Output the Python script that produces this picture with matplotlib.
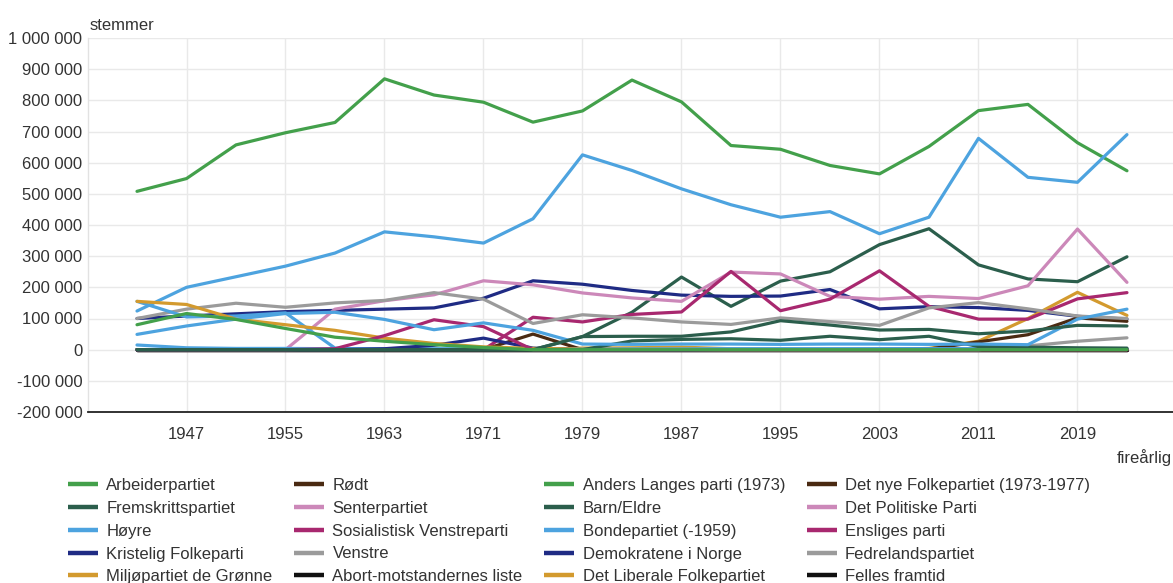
import numpy as np
import matplotlib
matplotlib.use("Agg")
import matplotlib.pyplot as plt
from matplotlib.ticker import FuncFormatter

plt.rcParams['font.family'] = ['Liberation Sans', 'DejaVu Sans']

# ---------------- data (votes, in thousands) ----------------
years = ["1945", "1947", "1951", "1955", "1959", "1963", "1967", "1971", "1975", "1979",
         "1983", "1987", "1991", "1995", "1999", "2003", "2007", "2011", "2015", "2019", "2023"]

arbeiderpartiet = [508, 549, 657, 696, 729, 869, 817, 794, 730, 766, 865, 795, 655, 643, 591, 564, 652, 767, 787, 664, 574]
fremskrittspartiet = [0, 0, 0, 0, 0, 0, 0, 0, 0, 42, 120, 233, 139, 220, 250, 337, 388, 272, 227, 218, 298]
hoyre = [124, 200, 234, 268, 310, 378, 362, 342, 420, 625, 575, 516, 465, 425, 443, 372, 425, 678, 553, 537, 690]
krf = [100, 108, 115, 122, 126, 130, 134, 165, 221, 210, 190, 175, 171, 172, 193, 131, 138, 135, 126, 107, 98]
mdg = [0, 0, 0, 0, 0, 0, 0, 0, 0, 0, 0, 0, 0, 0, 0, 0, 4, 27, 100, 184, 110]
rodt = [0, 0, 0, 0, 0, 0, 0, 0, 0, 0, 0, 0, 0, 0, 0, 0, 2, 25, 48, 102, 91]
senterpartiet = [0, 0, 0, 0, 130, 157, 176, 221, 208, 182, 166, 155, 249, 243, 171, 162, 171, 164, 205, 387, 216]
sv = [0, 0, 0, 0, 0, 0, 0, 0, 104, 89, 113, 121, 251, 125, 162, 253, 139, 98, 98, 163, 183]
venstre = [100, 130, 149, 136, 150, 158, 183, 162, 84, 112, 102, 89, 81, 102, 90, 78, 134, 151, 131, 108, 100]
abort = [0] * 21
anders_lange = [0] * 21
barn_eldre = [0] * 21
bondepartiet = [155, 105, 108, 118, 5, 0, 0, 0, 0, 0, 0, 0, 0, 0, 0, 0, 0, 0, 0, 0, 0]
demokratene = [0, 0, 0, 0, 0, 0, 0, 0, 0, 0, 0, 0, 0, 0, 0, 3, 3, 2, 2, 2, 2]
liberale = [0, 0, 0, 0, 0, 0, 0, 0, 0, 5, 6, 8, 3, 1, 0, 0, 0, 0, 0, 0, 0]
nye_folkepartiet = [0, 0, 0, 0, 0, 0, 0, 0, 50, 0, 0, 0, 0, 0, 0, 0, 0, 0, 0, 0, 0]
politiske_parti = [0] * 21
ensliges = [0] * 21
fedrelandspartiet = [0, 0, 0, 0, 0, 0, 0, 0, 0, 0, 0, 0, 2, 3, 3, 2, 0, 0, 0, 0, 0]
felles_framtid = [0] * 21

# further series (on later legend pages, not shown in the visible legend)
andre_sma = [15, 6, 4, 4, 3, 3, 3, 3, 3, 3, 3, 3, 3, 3, 3, 3, 3, 3, 3, 3, 3]
samlingslister = [0, 0, 0, 0, 0, 3, 14, 37, 5, 0, 0, 0, 0, 0, 0, 0, 0, 0, 0, 0, 0]
nkp = [155, 145, 98, 80, 62, 37, 20, 9, 4, 2, 1, 1, 0, 0, 0, 0, 0, 0, 0, 0, 0]
sf = [0, 0, 0, 0, 3, 45, 96, 74, 0, 0, 0, 0, 0, 0, 0, 0, 0, 0, 0, 0, 0]
industri = [0, 0, 0, 0, 0, 0, 0, 0, 0, 0, 0, 0, 0, 0, 0, 0, 0, 0, 12, 27, 38]
pensjonist = [0, 0, 0, 0, 0, 0, 0, 0, 0, 0, 28, 33, 35, 30, 43, 32, 43, 10, 8, 6, 5]
lokale_lister = [49, 76, 98, 116, 120, 97, 64, 86, 62, 18, 17, 18, 18, 17, 18, 18, 17, 18, 16, 98, 130]
tverrpolitiske = [0, 0, 0, 0, 0, 0, 0, 0, 0, 42, 43, 43, 57, 93, 79, 63, 65, 51, 60, 78, 76]
felleslister = [80, 116, 97, 68, 40, 27, 16, 7, 0, 0, 0, 0, 0, 0, 0, 0, 0, 0, 0, 0, 0]

palette = ['#43a04b', '#2b5e4c', '#4da3df', '#1f2b84', '#d39a2e',
           '#4a2a12', '#cc88b9', '#a8286f', '#9b9b9b', '#111111']

legend_series = [
    ("Arbeiderpartiet", arbeiderpartiet),
    ("Fremskrittspartiet", fremskrittspartiet),
    ("Høyre", hoyre),
    ("Kristelig Folkeparti", krf),
    ("Miljøpartiet de Grønne", mdg),
    ("Rødt", rodt),
    ("Senterpartiet", senterpartiet),
    ("Sosialistisk Venstreparti", sv),
    ("Venstre", venstre),
    ("Abort-motstandernes liste", abort),
    ("Anders Langes parti (1973)", anders_lange),
    ("Barn/Eldre", barn_eldre),
    ("Bondepartiet (-1959)", bondepartiet),
    ("Demokratene i Norge", demokratene),
    ("Det Liberale Folkepartiet", liberale),
    ("Det nye Folkepartiet (1973-1977)", nye_folkepartiet),
    ("Det Politiske Parti", politiske_parti),
    ("Ensliges parti", ensliges),
    ("Fedrelandspartiet", fedrelandspartiet),
    ("Felles framtid", felles_framtid),
]
extra_series = [
    ("Andre", andre_sma, 2),
    ("Samlingslister", samlingslister, 3),
    ("Norges Kommunistiske Parti", nkp, 4),
    ("Sosialistisk Folkeparti", sf, 7),
    ("Industri- og Næringspartiet", industri, 8),
    ("Pensjonistpartiet", pensjonist, 1),
    ("Lokale lister", lokale_lister, 2),
    ("Tverrpolitiske lister", tverrpolitiske, 1),
    ("Felleslister", felleslister, 0),
]

W, H = 1173, 583
fig = plt.figure(figsize=(W / 100, H / 100), dpi=100)
ax = fig.add_axes([88 / W, 1 - 412 / H, (W - 88) / W, (412 - 38) / H])

x = np.arange(len(years))
lw = 2.3
handles = []
for i, (name, vals) in enumerate(legend_series):
    h, = ax.plot(x, np.array(vals) * 1000, color=palette[i % 10], lw=lw,
                 solid_joinstyle='round', solid_capstyle='round', label=name)
    handles.append(h)
for name, vals, ci in extra_series:
    ax.plot(x, np.array(vals) * 1000, color=palette[ci], lw=lw,
            solid_joinstyle='round', solid_capstyle='round', label='_' + name)

ax.set_xlim(-0.99, 20.93)
ax.set_ylim(-200000, 1000000)
ax.set_yticks(range(-200000, 1000001, 100000))
ax.yaxis.set_major_formatter(FuncFormatter(lambda v, p: f"{int(round(v)):,}".replace(",", " ")))
ax.set_xticks(x[1::2])
ax.set_xticklabels(years[1::2])

ax.grid(True, color='#e9e9e9', lw=1.0, zorder=0)
ax.set_axisbelow(True)
for s in ['top', 'right']:
    ax.spines[s].set_visible(False)
ax.spines['left'].set_color('#e2e2e2')
ax.spines['left'].set_linewidth(1.0)
ax.spines['bottom'].set_color('#222222')
ax.spines['bottom'].set_linewidth(1.3)
ax.tick_params(axis='both', length=0, labelsize=12, colors='#333333')
ax.tick_params(axis='y', pad=4)
ax.tick_params(axis='x', pad=11)

fig.text(90 / W, 1 - 25 / H, "stemmer", fontsize=12, color='#333333', ha='left', va='center')
fig.text(1117 / W, 1 - 458 / H, "fireårlig", fontsize=12, color='#333333', ha='left', va='center')

leg = fig.legend(handles=handles, loc='upper left', ncol=4,
                 bbox_to_anchor=(68 / W, 1 - 478 / H), frameon=False,
                 fontsize=12, handlelength=1.8, handletextpad=0.5,
                 columnspacing=1.3, labelspacing=0.47, borderpad=0, borderaxespad=0)
for t in leg.get_texts():
    t.set_color('#333333')
for lh in leg.get_lines():
    lh.set_linewidth(3.2)
    lh.set_solid_capstyle('butt')

fig.savefig("out.png", dpi=100)
